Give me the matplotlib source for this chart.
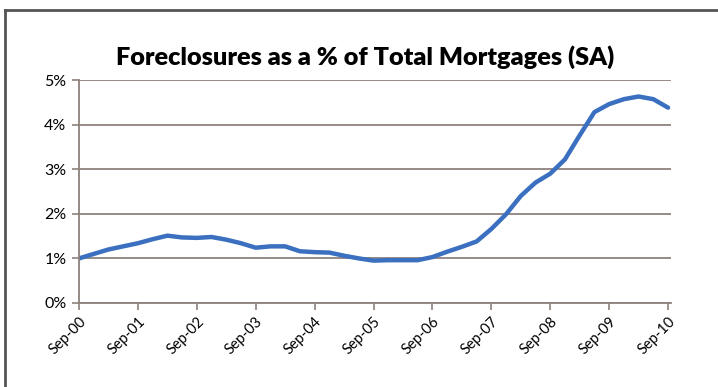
import matplotlib.pyplot as plt
from matplotlib.lines import Line2D

# quarterly readings, Sep-00 .. Sep-10
quarters = list(range(41))
foreclosure_pct = [
    1.00, 1.10, 1.20, 1.27, 1.34, 1.43, 1.51, 1.47, 1.46, 1.48,
    1.42, 1.34, 1.24, 1.27, 1.27, 1.16, 1.14, 1.13, 1.06, 1.00,
    0.95, 0.96, 0.96, 0.96, 1.03, 1.15, 1.26, 1.38, 1.66, 1.99,
    2.40, 2.70, 2.90, 3.22, 3.76, 4.28, 4.46, 4.57, 4.63, 4.57,
    4.38,
]
year_labels = ["Sep-%02d" % y for y in range(0, 11)]
pct_ticks = [0, 1, 2, 3, 4, 5]

GRID = "#8e817c"
LINE = "#3b70c0"

plt.rcParams["font.family"] = ["Lato", "DejaVu Sans"]

fig = plt.figure(figsize=(7.18, 3.87), dpi=100, facecolor="white")
fig.patch.set_linewidth(0)
ax = fig.add_axes([79 / 718, 1 - 303 / 387, 592 / 718, 223 / 387])

ax.plot(quarters, foreclosure_pct, color=LINE, lw=3.2,
        solid_capstyle="round", solid_joinstyle="round")

ax.set_ylim(0, 5)
ax.set_xlim(0, 40.2)
ax.set_yticks(pct_ticks)
ax.set_yticklabels(["%d%%" % p for p in pct_ticks])
ax.set_xticks(quarters[::4])
ax.set_xticklabels(year_labels, rotation=45, ha="right", rotation_mode="anchor")
ax.grid(axis="y", color=GRID, lw=1.3)
ax.set_axisbelow(True)

for side in ("top", "right"):
    ax.spines[side].set_visible(False)
for side in ("left", "bottom"):
    ax.spines[side].set_color(GRID)
    ax.spines[side].set_linewidth(1.3)

ax.tick_params(axis="y", length=5, color=GRID, width=1.2, labelsize=11.5, pad=4)
ax.tick_params(axis="x", length=5, color=GRID, width=1.2, labelsize=10.5, pad=3)

fig.text(0.508, 1 - 57 / 387, "Foreclosures as a % of Total Mortgages (SA)",
         ha="center", va="center", fontsize=18.2, fontweight="heavy")

# outer frame: top and left edges only
top = 1 - 9.5 / 387
left = 5 / 718
fig.add_artist(Line2D([left, 1.0], [top, top], transform=fig.transFigure,
                      color="#555555", lw=2))
fig.add_artist(Line2D([left, left], [0.0, top], transform=fig.transFigure,
                      color="#555555", lw=2))

fig.savefig("out.png", dpi=100)
